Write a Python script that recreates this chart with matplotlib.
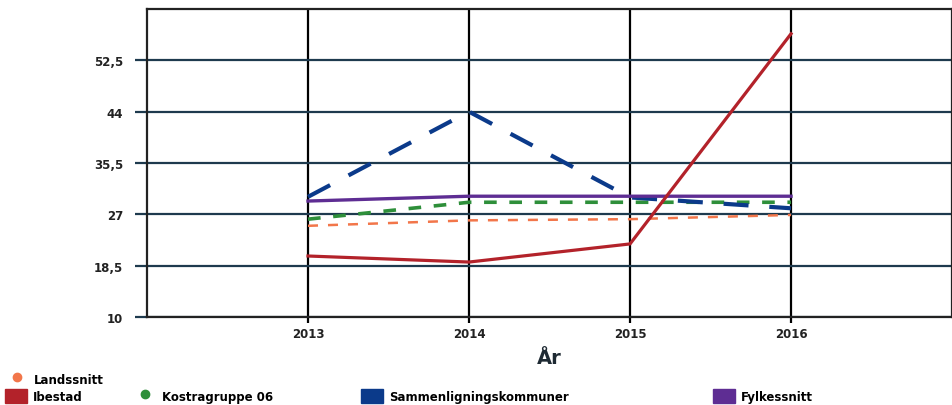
import matplotlib
matplotlib.use('Agg')
import matplotlib.pyplot as plt
from matplotlib.lines import Line2D
from matplotlib.patches import Patch

# DATA
years = [2013, 2014, 2015, 2016]
landssnitt = [25.1, 26.0, 26.2, 26.9]
ibestad = [20.1, 19.1, 22.1, 56.9]
kostragruppe = [26.2, 29.0, 29.0, 29.0]
sammenligning = [29.9, 44.0, 29.8, 28.0]
fylkessnitt = [29.2, 30.0, 30.0, 30.0]
yticks = [10, 18.5, 27, 35.5, 44, 52.5]
ytick_labels = ['10', '18,5', '27', '35,5', '44', '52,5']

c_orange = '#f2764a'
c_red = '#b3222a'
c_green = '#2e8f3a'
c_blue = '#0b3a8a'
c_purple = '#5e2d93'
c_grid = '#1e3a4e'

fig = plt.figure(figsize=(9.53, 4.06), dpi=100)
ax = fig.add_axes([147/953, 1-318/406, 1-147/953-0.001, 308/406])

ax.plot(years, landssnitt, color=c_orange, lw=1.8, dashes=(4, 4))
ax.plot(years, kostragruppe, color=c_green, lw=2.6, dashes=(3.5, 3.5))
ax.plot(years, sammenligning, color=c_blue, lw=3, dashes=(6, 5))
ax.plot(years, fylkessnitt, color=c_purple, lw=2.4)
ax.plot(years, ibestad, color=c_red, lw=2.3)

ax.set_xlim(2012, 2017)
ax.set_ylim(10, 61)
ax.set_xticks(years)
ax.set_yticks(yticks)
ax.set_yticklabels(ytick_labels)
ax.tick_params(axis='y', length=9, width=1.6, color=c_grid, pad=8, labelsize=8.5)
ax.tick_params(axis='x', length=4, width=1.6, color='black', pad=3, labelsize=8.5)
for lab in ax.get_xticklabels() + ax.get_yticklabels():
    lab.set_fontweight('bold')
    lab.set_color('#222222')

ax.grid(axis='y', color=c_grid, lw=1.6)
ax.grid(axis='x', color='black', lw=1.6)
ax.set_axisbelow(True)
for s in ax.spines.values():
    s.set_color('#222222')
    s.set_linewidth(1.6)

ax.set_xlabel('År', fontsize=14, fontweight='bold', color='#1e2a33', labelpad=6)

# LEGEND
lfont = {'size': 8.5, 'weight': 'bold'}
entries = [
    (Line2D([], [], marker='o', color='none', markerfacecolor=c_orange, markeredgecolor=c_orange, markersize=6), 'Landssnitt', 6/953, 1-380/406),
    (Patch(color=c_red), 'Ibestad', 5/953, 1-397/406),
    (Line2D([], [], marker='o', color='none', markerfacecolor=c_green, markeredgecolor=c_green, markersize=6), 'Kostragruppe 06', 134/953, 1-397/406),
    (Patch(color=c_blue), 'Sammenligningskommuner', 361/953, 1-397/406),
    (Patch(color=c_purple), 'Fylkessnitt', 713/953, 1-397/406),
]
for h, lab, x, y in entries:
    fig.legend(handles=[h], labels=[lab], loc='center left', bbox_to_anchor=(x, y),
               frameon=False, prop=lfont, handlelength=1.9, handleheight=1.5,
               handletextpad=0.5, borderpad=0, borderaxespad=0)

fig.savefig('out.png', dpi=100)
